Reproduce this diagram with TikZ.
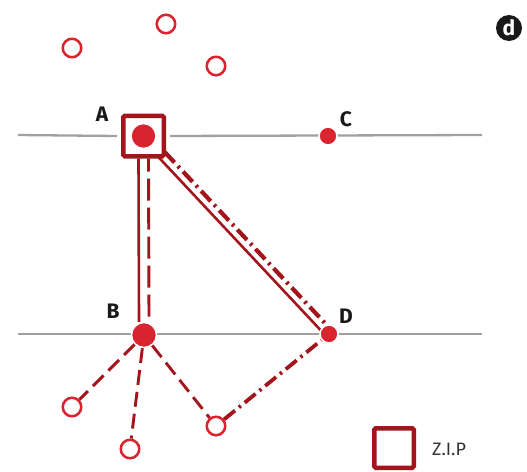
\documentclass[tikz,border=0pt]{standalone}
\usepackage{fontspec}
\setmainfont{Fira Sans}
\usetikzlibrary{calc}
\definecolor{ptred}{HTML}{D9232E}
\definecolor{linered}{HTML}{A3151C}
\definecolor{railgray}{HTML}{A0A0A0}
\pgfdeclarelayer{under}
\pgfsetlayers{under,main}
\begin{document}
\begin{tikzpicture}[x=1pt,y=-1pt,
  rail/.style={draw=railgray,line width=2.3},
  hub/.style={circle,fill=ptred,draw=white,line width=1.5,inner sep=0,minimum size=#1},
  ring/.style={circle,draw=ptred,line width=2.5,fill=white,inner sep=0,minimum size=18.5},
  zipbox/.style={rectangle,draw=linered,line width=4.5,fill=white,inner sep=0,minimum size=#1,rounded corners=1.5},
  lab/.style={font=\fontsize{21}{21}\selectfont\bfseries,text=black!90,inner sep=0},
  solidlink/.style={draw=linered,line width=2.6},
  dashlink/.style={draw=linered,line width=2.9,dash pattern=on 15 off 7},
  longdash/.style={draw=linered,line width=2.9,dash pattern=on 22 off 7,dash phase=9},
  dashdotlink/.style={draw=linered,line width=#1,dash pattern=on 14 off 5 on 2.5 off 5},
]
\useasboundingbox (0,0) rectangle (527,471);

% stations
\node[zipbox=40.5] (A) at (143.5,136) {};
\node[hub=25] (Ain) at (143.5,136) {};
\node[hub=25] (B) at (144,335) {};
\node[hub=18] (C) at (328,136) {};
\node[hub=18] (D) at (329,334) {};

% scattered points
\node[ring] (t1) at (72,48) {};
\node[ring] (t2) at (166,24) {};
\node[ring] (t3) at (216,66) {};
\node[ring] (b1) at (72,407) {};
\node[ring] (b2) at (130,449) {};
\node[ring] (b3) at (216,426) {};

% labels
\node[lab] at (102,114) {A};
\node[lab] at (113,311) {B};
\node[lab] at (346,119) {C};
\node[lab] at (346,316) {D};

% panel badge
\node[circle,fill=black!90,inner sep=0,minimum size=26,text=white,
      font=\fontsize{21}{21}\selectfont\bfseries] (badge) at (509,28) {d};

% legend
\node[zipbox=39.5] (key) at (394,448) {};
\node[anchor=west,inner sep=0,text=black!80,font=\fontsize{18}{18}\selectfont]
  (keytext) at (432,449) {Z.I.P};

% rails and links below the stations
\coordinate (r1w) at (18,135);
\coordinate (r1e) at (482,135);
\coordinate (r2w) at (18,334);
\coordinate (r2e) at (482,334);
\begin{pgfonlayer}{under}
  \draw[rail] (r1w) -- ([xshift=-4]A.west);
  \draw[rail] ([xshift=4]A.east) -- (r1e);
  \draw[rail] (r2w) -- (r2e);

  % A -- B
  \draw[solidlink] ([xshift=-5]A.south) -- ([xshift=-5]B.north);
  \draw[longdash] ([xshift=5]A.south) -- ([xshift=5]B.north);

  % A -- D
  \draw[solidlink,shorten >=4pt]
    ($(A.center)!3.5pt!-90:(D.center)$) -- ($(D.center)!3.5pt!90:(A.center)$);
  \draw[dashdotlink=4.2,shorten >=5pt]
    ($(A.center)!4.5pt!90:(D.center)$) -- ($(D.center)!4.5pt!-90:(A.center)$);

  % B to outer points
  \draw[dashlink] (B) -- (b1);
  \draw[dashlink] (B) -- (b2);
  \draw[dashlink] (B) -- (b3);

  % outer point to D
  \draw[dashdotlink=3.8] (b3) -- (D);
\end{pgfonlayer}
\end{tikzpicture}
\end{document}
